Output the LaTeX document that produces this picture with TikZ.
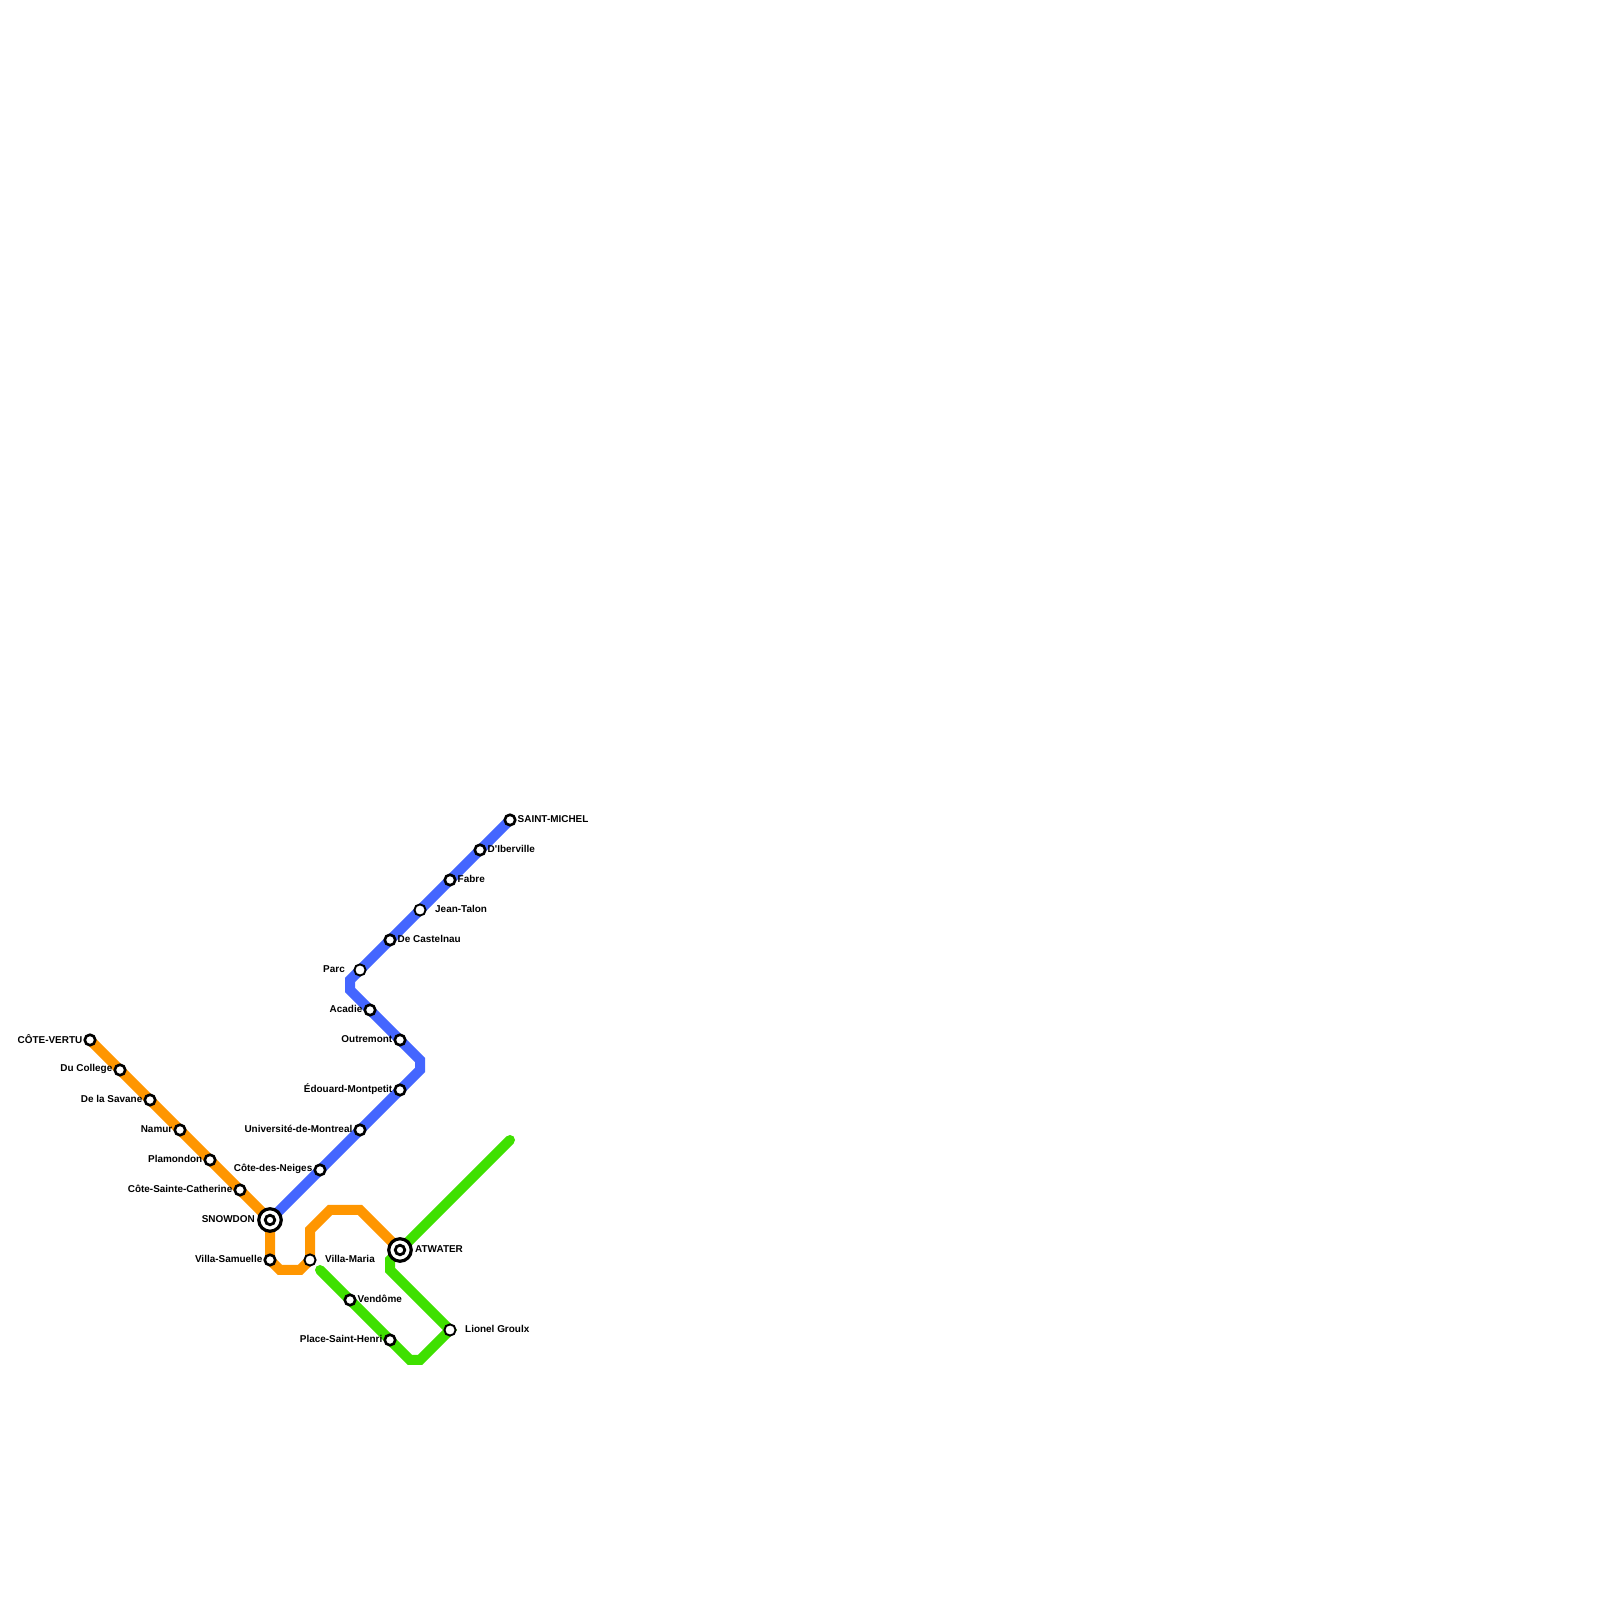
\documentclass[tikz,border=0pt]{standalone}
\usepackage{fontspec}
\newfontfamily\metrofont{Liberation Sans}
\usetikzlibrary{positioning}
\definecolor{lineorange}{HTML}{FF9600}
\definecolor{lineblue}{HTML}{4466FF}
\definecolor{linegreen}{HTML}{3FE000}
\tikzset{
  metro/.style={line width=2.845pt},
  stn/.style={circle, draw=black, fill=white, line width=0.75pt, minimum size=0.105cm, inner sep=0pt},
  stnopen/.style={circle, draw=black, fill=white, line width=0.55pt, minimum size=0.112cm, inner sep=0pt},
  hub/.style={circle, draw=black, fill=white, line width=0.9pt, minimum size=0.225cm, inner sep=0pt},
  hubcore/.style={circle, draw=black, fill=white, line width=0.8pt, minimum size=0.095cm, inner sep=0pt},
  lbl/.style={inner sep=0pt, font=\metrofont\bfseries\fontsize{2.83pt}{3.3pt}\selectfont, yshift=0.01cm}
}
\begin{document}
\begin{tikzpicture}
  \useasboundingbox (0,0) rectangle (16,16);
  % station positions
  \coordinate (cotevertu)  at (0.9,5.6);
  \coordinate (ducollege)  at (1.2,5.3);
  \coordinate (savane)     at (1.5,5.0);
  \coordinate (namur)      at (1.8,4.7);
  \coordinate (plamondon)  at (2.1,4.4);
  \coordinate (catherine)  at (2.4,4.1);
  \coordinate (snowdon)    at (2.7,3.8);
  \coordinate (samuelle)   at (2.7,3.4);
  \coordinate (villamaria) at (3.1,3.4);
  \coordinate (atwater)    at (4.0,3.5);
  \coordinate (neiges)     at (3.2,4.3);
  \coordinate (universite) at (3.6,4.7);
  \coordinate (edouard)    at (4.0,5.1);
  \coordinate (outremont)  at (4.0,5.6);
  \coordinate (acadie)     at (3.7,5.9);
  \coordinate (parc)       at (3.6,6.3);
  \coordinate (castelnau)  at (3.9,6.6);
  \coordinate (jeantalon)  at (4.2,6.9);
  \coordinate (fabre)      at (4.5,7.2);
  \coordinate (iberville)  at (4.8,7.5);
  \coordinate (michel)     at (5.1,7.8);
  \coordinate (vendome)    at (3.5,3.0);
  \coordinate (henri)      at (3.9,2.6);
  \coordinate (groulx)     at (4.5,2.7);
  % line ends
  \coordinate (greenend)   at (5.1,4.6);
  \coordinate (greenstub)  at (3.2,3.3);
  % orange line
  \draw[metro, lineorange] (cotevertu) -- (snowdon) -- (samuelle) -- ++(0.1,-0.1) -- ++(0.2,0)
    -- (villamaria) -- ++(0,0.3) -- ++(0.2,0.2) -- ++(0.3,0) -- (atwater);
  % blue line
  \draw[metro, lineblue] (snowdon) -- (edouard) -- ++(0.2,0.2) -- ++(0,0.1) -- (outremont) -- (acadie)
    -- ++(-0.2,0.2) -- ++(0,0.1) -- (parc) -- (michel);
  % green line
  \draw[metro, linegreen, line cap=round] (greenend) -- (atwater) -- ++(-0.1,-0.1) -- ++(0,-0.1)
    -- (groulx) -- ++(-0.3,-0.3) -- ++(-0.1,0) -- (henri) -- (vendome) -- (greenstub);
  % plain stations
  \foreach \n in {cotevertu,ducollege,savane,namur,plamondon,catherine,samuelle,neiges,universite,
    edouard,outremont,acadie,castelnau,fabre,iberville,michel,vendome,henri}{
    \node[stn] (\n-stn) at (\n) {};
  }
  % open stations
  \foreach \n in {villamaria,parc,jeantalon,groulx}{
    \node[stnopen] (\n-stn) at (\n) {};
  }
  % interchanges
  \foreach \n in {snowdon,atwater}{
    \node[hub] (\n-stn) at (\n) {};
    \node[hubcore] (\n-core) at (\n) {};
  }
  % labels on the left
  \foreach \n/\d/\t in {cotevertu/0.07/CÔTE-VERTU, ducollege/0.07/Du College, savane/0.07/De la Savane,
    namur/0.07/Namur, plamondon/0.07/Plamondon, catherine/0.07/Côte-Sainte-Catherine,
    snowdon/0.145/SNOWDON, samuelle/0.07/Villa-Samuelle, neiges/0.07/Côte-des-Neiges,
    universite/0.07/Université-de-Montreal, edouard/0.07/Édouard-Montpetit, outremont/0.07/Outremont,
    acadie/0.07/Acadie, parc/0.145/Parc, henri/0.07/Place-Saint-Henri}{
    \node[lbl, left=\d of \n] (\n-lbl) {\t};
  }
  % labels on the right
  \foreach \n/\d/\t in {villamaria/0.145/Villa-Maria, atwater/0.145/ATWATER, castelnau/0.07/De Castelnau,
    jeantalon/0.145/Jean-Talon, fabre/0.07/Fabre, iberville/0.07/D'Iberville, michel/0.07/SAINT-MICHEL,
    vendome/0.07/Vendôme, groulx/0.145/Lionel Groulx}{
    \node[lbl, right=\d of \n] (\n-lbl) {\t};
  }
\end{tikzpicture}
\end{document}
